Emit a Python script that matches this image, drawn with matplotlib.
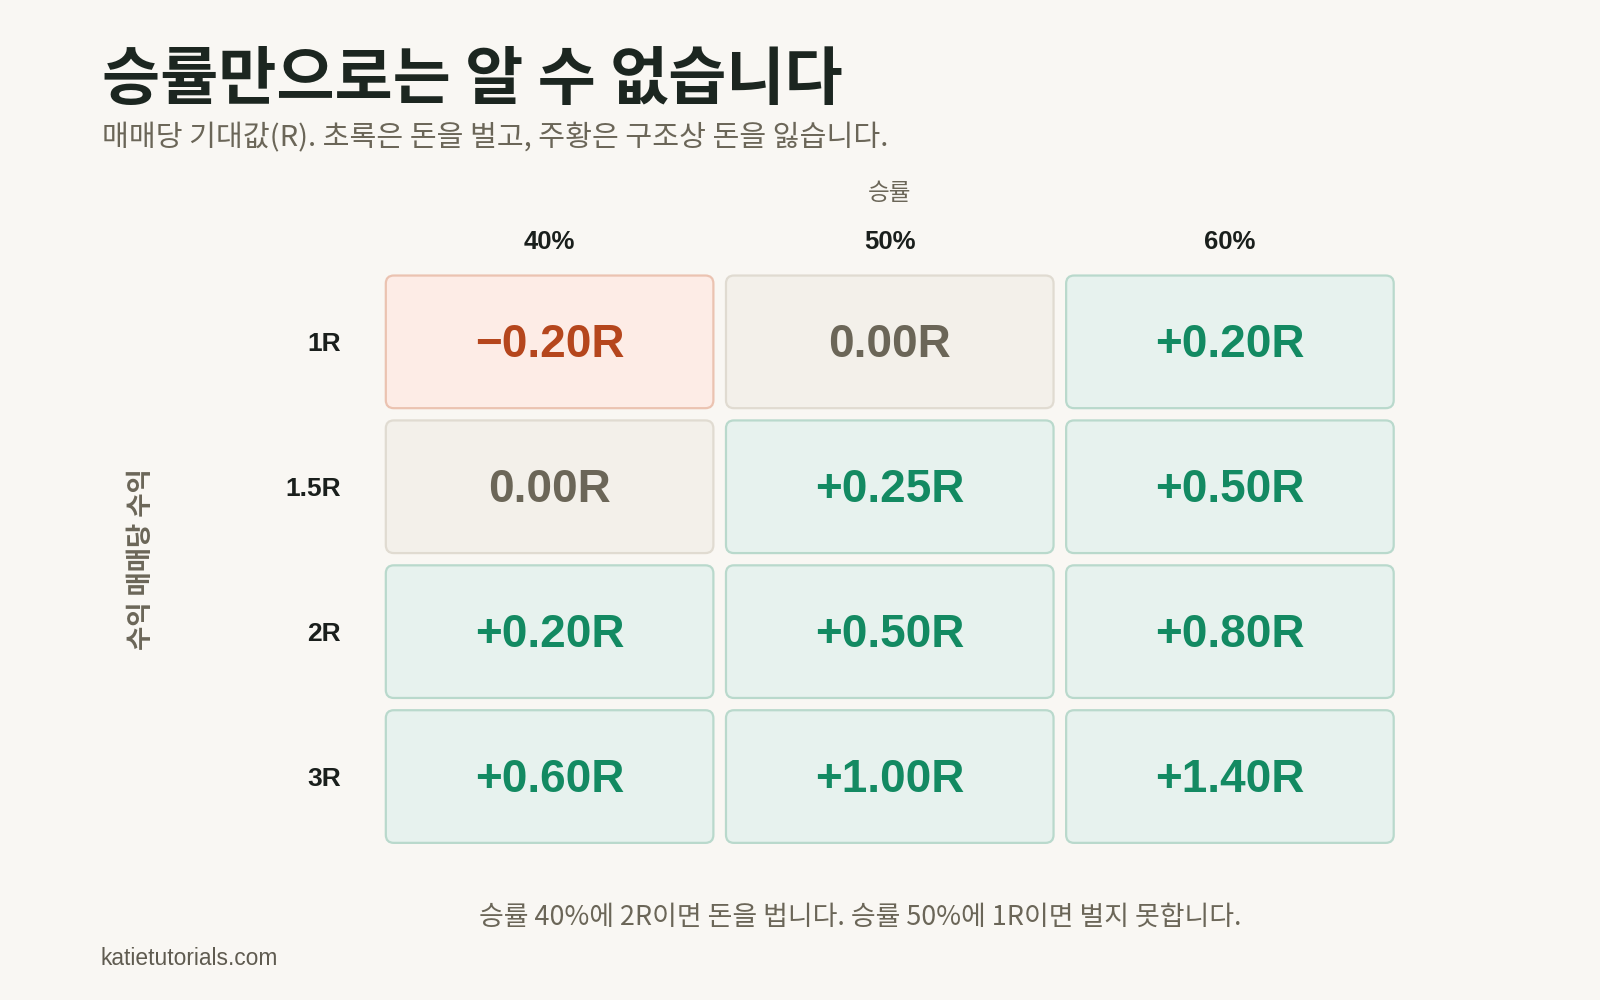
import matplotlib
matplotlib.use("Agg")
import matplotlib.pyplot as plt
from matplotlib.patches import FancyBboxPatch

# ----------------------------
# Data
# ----------------------------
win_rates = ["40%", "50%", "60%"]
payoffs = ["1R", "1.5R", "2R", "3R"]
# expected value per trade (R), rows = payoff, cols = win rate
ev = [
    [-0.20, 0.00, 0.20],
    [0.00, 0.25, 0.50],
    [0.20, 0.50, 0.80],
    [0.60, 1.00, 1.40],
]

title = "승률만으로는 알 수 없습니다"
subtitle = "매매당 기대값(R). 초록은 돈을 벌고, 주황은 구조상 돈을 잃습니다."
col_header = "승률"
row_header = "수익 매매당 수익"
note = "승률 40%에 2R이면 돈을 법니다. 승률 50%에 1R이면 벌지 못합니다."
source = "katietutorials.com"

# ----------------------------
# Style
# ----------------------------
BG = "#f9f7f3"
KR = ["Noto Sans CJK KR", "DejaVu Sans"]
LAT = ["Liberation Sans", "DejaVu Sans"]

styles = {
    "neg": dict(face="#fdece6", edge="#ebc3b1", text="#b5461d"),
    "zero": dict(face="#f3f0ea", edge="#e0dbd1", text="#6b6658"),
    "pos": dict(face="#e7f2ee", edge="#b9d9cc", text="#138a62"),
}


def fmt(v):
    if abs(v) < 1e-9:
        return "0.00R"
    if v < 0:
        return "\u2212%.2fR" % abs(v)
    return "+%.2fR" % v


def kind(v):
    if abs(v) < 1e-9:
        return "zero"
    return "neg" if v < 0 else "pos"


fig = plt.figure(figsize=(16, 10), dpi=100, facecolor=BG)

# grid axes: one data unit = one cell pitch
ax_pos = [0.2372, 0.1510, 0.6378, 0.5796]
ax = fig.add_axes(ax_pos)
ax.set_facecolor(BG)
ax.set_xlim(-0.5, 2.5)
ax.set_ylim(3.5, -0.5)
for s in ax.spines.values():
    s.set_visible(False)

# px per data unit, for round corners
px_x_unit = ax_pos[2] * 1600 / 3
px_y_unit = ax_pos[3] * 1000 / 4
radius = 8 / px_x_unit
aspect = px_x_unit / px_y_unit

hw = 0.4815
hh = 0.4577

for i, row in enumerate(ev):
    for j, v in enumerate(row):
        st = styles[kind(v)]
        box = FancyBboxPatch(
            (j - hw, i - hh), 2 * hw, 2 * hh,
            boxstyle="round,pad=0,rounding_size=%f" % radius,
            mutation_aspect=aspect,
            facecolor=st["face"], edgecolor=st["edge"], linewidth=1.6,
        )
        ax.add_patch(box)
        ax.text(j, i + 0.025, fmt(v), ha="center", va="center",
                fontsize=33, fontweight="bold", color=st["text"],
                family=LAT)

ax.xaxis.set_ticks_position("top")
ax.set_xticks(range(len(win_rates)))
ax.set_xticklabels(win_rates, fontsize=18.5, fontweight="bold",
                   color="#1a1f1c", family=LAT)
ax.set_yticks(range(len(payoffs)))
ax.set_yticklabels(payoffs, fontsize=19, fontweight="bold",
                   color="#1a1f1c", family=LAT)
ax.tick_params(axis="x", length=0, pad=11)
ax.tick_params(axis="y", length=0, pad=28)

# ----------------------------
# Text
# ----------------------------
fig.text(0.0638, 0.901, title, fontsize=45.5, fontweight="bold",
         color="#1c2620", family=KR, va="baseline")
fig.text(0.0638, 0.854, subtitle, fontsize=21, color="#6b6658",
         family=KR, va="baseline")
fig.text(0.556, 0.806, col_header, fontsize=17, color="#6b6658",
         family=KR, ha="center", va="center", fontweight="medium")
fig.text(0.0885, 0.441, row_header, fontsize=19, color="#6b6658",
         family=KR, ha="center", va="center", rotation=90,
         fontweight="bold")
fig.text(0.5376, 0.0755, note, fontsize=19.4, color="#6b6658",
         family=KR, ha="center", va="baseline")
fig.text(0.0625, 0.0347, source, fontsize=16.4, color="#5f5b50",
         family=LAT, va="baseline")

fig.savefig("out.png", dpi=100, facecolor=BG)
